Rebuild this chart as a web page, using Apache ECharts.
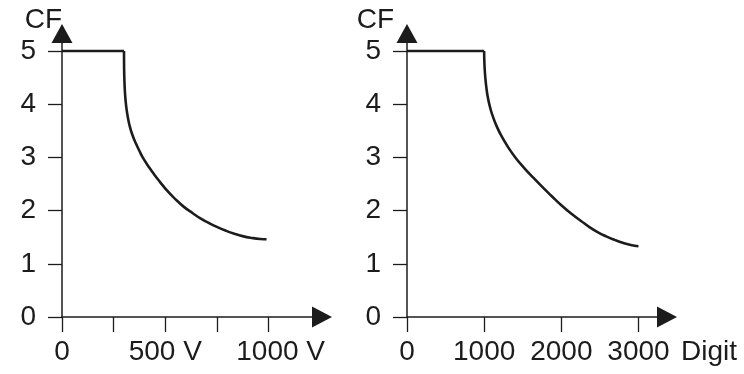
<!DOCTYPE html>
<html>
<head>
<meta charset="utf-8">
<script src="https://cdn.jsdelivr.net/npm/echarts@6/dist/echarts.min.js"></script>
<style>
html,body{margin:0;padding:0;background:#fff;}
#c{width:744px;height:374px;}
</style>
</head>
<body>
<div id="c"></div>
<script>
// ---- data ----
const cfTicks = [0, 1, 2, 3, 4, 5];

// Left chart: CF vs voltage (V)
const voltTicks = [0, 250, 500, 750, 1000];
const voltLabels = [0, 500, 1000];
const voltFlatX = [0, 300];
const voltFlatCF = [5, 5];
const voltCurveX = [300, 300.3, 301, 303, 306, 311, 318, 327, 340, 359, 375, 392, 424, 448, 472, 510, 553, 590, 633, 672, 714, 754, 794, 834, 874, 920, 960, 990];
const voltCurveCF = [5, 4.8, 4.6, 4.35, 4.15, 3.95, 3.77, 3.6, 3.43, 3.25, 3.12, 2.99, 2.8, 2.67, 2.55, 2.37, 2.2, 2.07, 1.95, 1.85, 1.76, 1.685, 1.62, 1.565, 1.52, 1.485, 1.465, 1.46];

// Right chart: CF vs digits
const digitTicks = [0, 1000, 2000, 3000];
const digitFlatX = [0, 1000];
const digitFlatCF = [5, 5];
const digitCurveX = [1000, 1002, 1007, 1015, 1028, 1046, 1075, 1110, 1170, 1240, 1320, 1414, 1520, 1629, 1750, 1870, 2000, 2148, 2260, 2364, 2470, 2581, 2690, 2797, 2900, 3000];
const digitCurveCF = [5, 4.82, 4.66, 4.5, 4.32, 4.14, 3.95, 3.78, 3.56, 3.36, 3.17, 2.98, 2.8, 2.63, 2.45, 2.28, 2.1, 1.92, 1.8, 1.69, 1.595, 1.515, 1.45, 1.395, 1.355, 1.33];

// ---- style ----
const INK = '#1c1c1c';
const FONT = "'Liberation Sans', Arial, sans-serif";
const FS = 28;

function zip(xs, ys) { return xs.map((x, i) => [x, ys[i]]); }

function xAxisCfg(gi, max, ticks, labels, fmt, name) {
  return {
    gridIndex: gi, type: 'value', min: 0, max: max,
    name: name || '', nameLocation: 'end', nameGap: 24, nameMoveOverlap: false,
    nameTextStyle: { fontSize: FS, fontFamily: FONT, color: INK, align: 'left', verticalAlign: 'top', padding: [21, 0, 0, 0] },
    axisLine: { show: true, onZero: false, symbol: ['none', 'triangle'], symbolSize: [21, 20], symbolOffset: [0, 10], lineStyle: { color: INK, width: 1.5 } },
    axisTick: { show: true, length: 15, customValues: ticks, lineStyle: { color: INK, width: 1.3 } },
    axisLabel: { show: true, customValues: labels, margin: 21, fontSize: FS, fontFamily: FONT, color: INK, formatter: fmt,
      rich: { r: { fontSize: FS, fontFamily: FONT, color: INK, padding: [0, 0, 0, 24] } } },
    splitLine: { show: false }
  };
}
function yAxisCfg(gi, namePad) {
  return {
    gridIndex: gi, type: 'value', min: 0, max: 5.15,
    name: 'CF', nameLocation: 'end', nameGap: 9, nameMoveOverlap: false,
    nameTextStyle: { fontSize: 28, fontFamily: FONT, color: INK, align: 'right', padding: [0, namePad, 0, 0] },
    axisLine: { show: true, onZero: false, symbol: ['none', 'triangle'], symbolSize: [21, 19], symbolOffset: [0, 9.5], lineStyle: { color: INK, width: 1.5 } },
    axisTick: { show: true, length: 14, customValues: cfTicks, lineStyle: { color: INK, width: 1.3 } },
    axisLabel: { show: true, customValues: cfTicks, margin: 26, fontSize: FS, fontFamily: FONT, color: INK },
    splitLine: { show: false }
  };
}
function lineSeries(xi, data, smooth) {
  return {
    type: 'line', xAxisIndex: xi, yAxisIndex: xi, data: data, smooth: smooth,
    showSymbol: false, symbol: 'none', silent: true,
    lineStyle: { color: INK, width: 2.6 }
  };
}

const chart = echarts.init(document.getElementById('c'), null, { renderer: 'canvas' });
chart.setOption({
  animation: false,
  backgroundColor: '#fff',
  grid: [
    { left: 62, top: 43, width: 250, height: 274, outerBoundsMode: 'none', containLabel: false },
    { left: 407, top: 43, width: 250, height: 274, outerBoundsMode: 'none', containLabel: false }
  ],
  xAxis: [
    xAxisCfg(0, 1210, voltTicks, voltLabels, function (v) { return v === 0 ? '0' : (v === 1000 ? '{r|1000 V}' : v + ' V'); }),
    xAxisCfg(1, 3240, digitTicks, digitTicks, function (v) { return String(v); }, 'Digit')
  ],
  yAxis: [yAxisCfg(0, 0), yAxisCfg(1, 13)],
  series: [
    lineSeries(0, zip(voltFlatX, voltFlatCF), false),
    lineSeries(0, zip(voltCurveX, voltCurveCF), true),
    lineSeries(1, zip(digitFlatX, digitFlatCF), false),
    lineSeries(1, zip(digitCurveX, digitCurveCF), true)
  ]
});
</script>
</body>
</html>
